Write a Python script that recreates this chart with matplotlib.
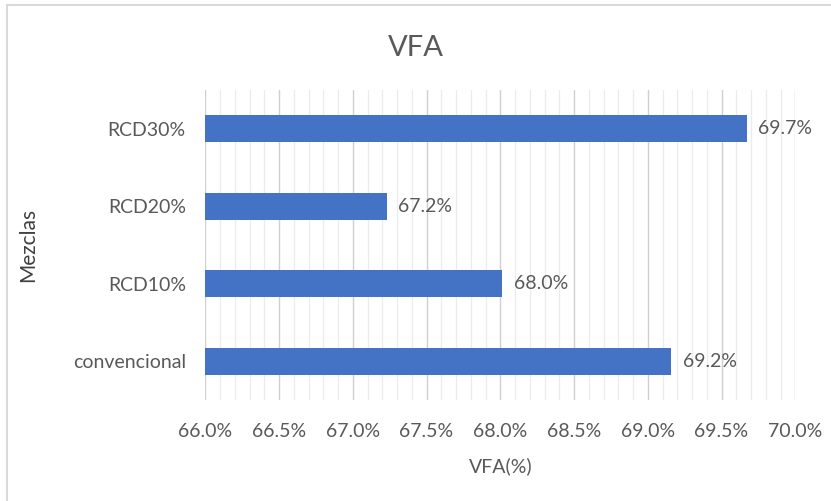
import matplotlib.pyplot as plt
from matplotlib.lines import Line2D
from matplotlib.ticker import MultipleLocator, FuncFormatter

plt.rcParams['font.family'] = ['Lato', 'DejaVu Sans']

# datos
mezclas = ['convencional', 'RCD10%', 'RCD20%', 'RCD30%']
vfa = [69.16, 68.01, 67.23, 69.67]
etiquetas = ['69.2%', '68.0%', '67.2%', '69.7%']

gris = '#595959'
azul = '#4472C4'

fig = plt.figure(figsize=(8.31, 5.01), dpi=100)
ax = fig.add_axes([0.247, 0.202, 0.710, 0.618])

ax.barh(mezclas, [v - 66.0 for v in vfa], left=66.0, height=0.35, color=azul, zorder=3)

for i, (v, t) in enumerate(zip(vfa, etiquetas)):
    ax.text(v + 0.08, i, t, va='center', ha='left', fontsize=14, color=gris)

ax.set_xlim(66.0, 70.0)
ax.set_ylim(-0.5, 3.5)
ax.xaxis.set_major_locator(MultipleLocator(0.5))
ax.xaxis.set_minor_locator(MultipleLocator(0.1))
ax.xaxis.set_major_formatter(FuncFormatter(lambda x, p: f'{x:.1f}%'))
ax.grid(axis='x', which='major', color='#d0d0d0', lw=1.0, zorder=0)
ax.grid(axis='x', which='minor', color='#ececec', lw=0.9, zorder=0)
ax.set_axisbelow(True)

for s in ax.spines.values():
    s.set_visible(False)
ax.tick_params(axis='both', which='both', length=0, labelsize=14, colors=gris)
ax.tick_params(axis='x', pad=17)
ax.tick_params(axis='y', pad=14)

ax.set_xlabel('VFA(%)', fontsize=14, color=gris)
ax.xaxis.set_label_coords(0.5, -0.187)
ax.set_ylabel('Mezclas', fontsize=15, color='#404040')
ax.yaxis.set_label_coords(-0.283, 0.5)
fig.text(0.5, 0.905, 'VFA', ha='center', va='center', fontsize=21, color=gris)

# borde del grafico
fig.add_artist(Line2D([0.009, 0.009], [0.0, 0.99], transform=fig.transFigure, color='#d9d9d9', lw=1.5))
fig.add_artist(Line2D([0.009, 1.0], [0.99, 0.99], transform=fig.transFigure, color='#d9d9d9', lw=1.5))

fig.savefig('out.png', dpi=100)
